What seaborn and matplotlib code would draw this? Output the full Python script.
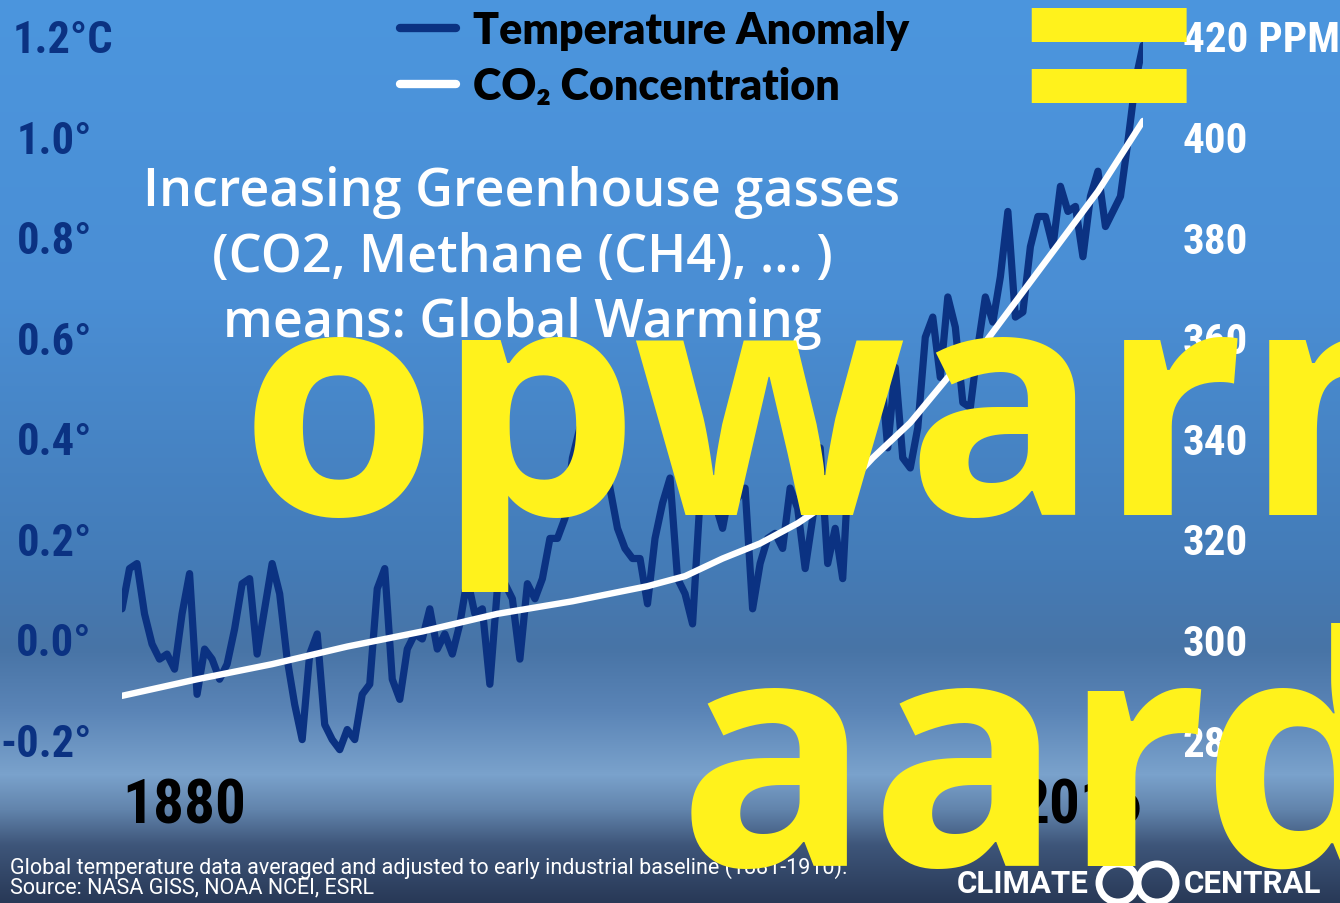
import numpy as np
import matplotlib
matplotlib.use("Agg")
import matplotlib.pyplot as plt
import seaborn as sns
from matplotlib.patches import Circle
from matplotlib.transforms import ScaledTranslation

# Annual temperature anomaly (deg C, vs. 1881-1910)
years = list(range(1880, 2017))
temp_anomaly = [
    0.06, 0.14, 0.15, 0.05, -0.01, -0.04, -0.03, -0.06, 0.05, 0.13,
    -0.11, -0.02, -0.04, -0.08, -0.05, 0.02, 0.11, 0.12, -0.03, 0.06,
    0.15, 0.09, -0.04, -0.13, -0.20, -0.03, 0.01, -0.17, -0.20, -0.22,
    -0.18, -0.20, -0.11, -0.09, 0.10, 0.14, -0.08, -0.12, -0.02, 0.01,
    0.00, 0.06, -0.02, 0.01, -0.03, 0.03, 0.12, 0.05, 0.06, -0.09,
    0.10, 0.11, 0.08, -0.04, 0.11, 0.08, 0.12, 0.20, 0.20, 0.24,
    0.36, 0.42, 0.32, 0.34, 0.42, 0.30, 0.22, 0.18, 0.16, 0.16,
    0.07, 0.20, 0.27, 0.32, 0.12, 0.09, 0.03, 0.28, 0.31, 0.27,
    0.22, 0.30, 0.28, 0.30, 0.06, 0.15, 0.20, 0.21, 0.18, 0.30,
    0.26, 0.14, 0.24, 0.38, 0.15, 0.22, 0.12, 0.40, 0.32, 0.40,
    0.50, 0.55, 0.38, 0.54, 0.36, 0.34, 0.42, 0.60, 0.64, 0.52,
    0.68, 0.62, 0.47, 0.46, 0.58, 0.68, 0.63, 0.72, 0.85, 0.64,
    0.65, 0.78, 0.84, 0.84, 0.78, 0.90, 0.85, 0.86, 0.76, 0.88,
    0.93, 0.82, 0.85, 0.88, 0.99, 1.11, 1.18,
]

# CO2 concentration (ppm)
co2_years = [1880, 1890, 1900, 1910, 1920, 1930, 1940, 1950, 1955, 1960,
             1965, 1970, 1975, 1980, 1985, 1990, 1995, 2000, 2005, 2010,
             2013, 2016]
co2_ppm = [288.7, 292.0, 295.0, 298.5, 301.5, 305.0, 307.5, 310.5, 312.5, 316.0,
           319.0, 323.0, 328.0, 336.0, 343.0, 352.0, 359.0, 369.0, 379.0, 389.0,
           396.0, 403.0]

temp_ticks = [-0.2, 0.0, 0.2, 0.4, 0.6, 0.8, 1.0, 1.2]
temp_labels = ["-0.2°", "0.0°", "0.2°", "0.4°", "0.6°", "0.8°", "1.0°", "1.2°C"]
co2_ticks = [280, 300, 320, 340, 360, 380, 400, 420]
co2_labels = ["280", "300", "320", "340", "360", "380", "400", "420 PPM"]
year_labels = ["1880", "2016"]

W, H = 1340, 904
NAVY = "#0b3282"
YELLOW = "#fff21c"
NARROW = ["Roboto Condensed", "DejaVu Sans"]

sns.set_theme(style="white")
plt.rcParams["font.family"] = ["Lato", "DejaVu Sans"]

fig = plt.figure(figsize=(W / 100, H / 100), dpi=100)

# background gradient (sky-like)
bg = fig.add_axes([0, 0, 1, 1], zorder=0)
stops_y = [0, 300, 560, 650, 710, 775, 810, 845, 904]
stops_rgb = [(76, 150, 222), (74, 142, 212), (68, 124, 184), (72, 116, 166),
             (90, 132, 182), (122, 162, 204), (98, 132, 172), (62, 86, 122), (40, 56, 86)]
rows = np.arange(H)
grad = np.stack([np.interp(rows, stops_y, [c[i] for c in stops_rgb]) for i in range(3)], axis=-1) / 255
bg.imshow(grad[:, None, :], aspect="auto", extent=[0, 1, 0, 1])
bg.set_axis_off()

# main axes: 1880 at x=122 px, 2016 at x=1143 px
ax = fig.add_axes([122 / W, 0, (1143 - 122) / W, 1], zorder=1)
ax.patch.set_alpha(0)
t_top, t_bot = 640 / 503, -(H - 640) / 503
ax.set_xlim(1880, 2016)
ax.set_ylim(t_bot, t_top)
sns.lineplot(x=years, y=temp_anomaly, ax=ax, color=NAVY, linewidth=5.2,
             label="Temperature Anomaly", legend=False)

ax2 = ax.twinx()
ax2.set_ylim(300 + 100 * t_bot, 300 + 100 * t_top)
sns.lineplot(x=co2_years, y=co2_ppm, ax=ax2, color="white", linewidth=4.6,
             label="CO₂ Concentration", legend=False)
for ln in ax.lines + ax2.lines:
    ln.set_solid_capstyle("round")
    ln.set_solid_joinstyle("round")

for a in (ax, ax2):
    for s in a.spines.values():
        s.set_visible(False)
    a.grid(False)
    a.set_xlabel("")
    a.set_ylabel("")


def narrow(labels):
    for lab in labels:
        lab.set_family(NARROW)
        lab.set_fontstretch("condensed")
        lab.set_fontweight("bold")


ax.set_yticks(temp_ticks, temp_labels)
ax.tick_params(axis="y", length=0, pad=21.6, labelsize=32, labelcolor=NAVY)
narrow(ax.get_yticklabels())
top_lab = ax.get_yticklabels()[-1]
top_lab.set_transform(top_lab.get_transform() + ScaledTranslation(0.21, 0, fig.dpi_scale_trans))

ax2.set_yticks(co2_ticks, co2_labels)
ax2.tick_params(axis="y", length=0, pad=28.8, labelsize=31, labelcolor="white")
narrow(ax2.get_yticklabels())

# year labels sit just above the footer band
ax.spines["bottom"].set_position(("data", -(778 - 640) / 503))
ax.set_xticks([1880, 2016], year_labels)
ax.tick_params(axis="x", length=0, pad=0, labelsize=44, labelcolor="black")
xl = ax.get_xticklabels()
narrow(xl)
xl[0].set_ha("left")
xl[1].set_ha("right")

# legend at the top
handles = ax.lines[:1] + ax2.lines[:1]
leg = ax2.legend(handles, [h.get_label() for h in handles], loc="upper left",
                 bbox_to_anchor=(400 / W, 1 - 11 / H), bbox_transform=fig.transFigure,
                 frameon=False, fontsize=31, handlelength=1.3, handletextpad=0.4,
                 labelspacing=0.37, borderpad=0, borderaxespad=0)
for txt in leg.get_texts():
    txt.set_fontweight("heavy")
    txt.set_color("black")
for lh in leg.get_lines():
    lh.set_linewidth(6)
    lh.set_solid_capstyle("round")

# white annotation in the middle
fig.text(522 / W, 1 - 258 / H,
         "Increasing Greenhouse gasses\n(CO2, Methane (CH4), … )\nmeans: Global Warming",
         ha="center", va="center", color="white", fontsize=37.5, fontweight="semibold",
         family=["Open Sans", "DejaVu Sans"], linespacing=1.32, zorder=2)

# footer
foot = dict(ha="left", va="center", color="white", fontsize=15.5,
            family=["Roboto", "DejaVu Sans"], zorder=2)
fig.text(10 / W, 1 - 868 / H,
         "Global temperature data averaged and adjusted to early industrial baseline (1881-1910).",
         **foot)
fig.text(10 / W, 1 - 888 / H, "Source: NASA GISS, NOAA NCEI, ESRL", **foot)
logo = dict(va="center", color="white", fontsize=22.5, fontweight="bold",
            family=["Roboto", "DejaVu Sans"], zorder=2)
fig.text(1089 / W, 1 - 884 / H, "CLIMATE", ha="right", **logo)
fig.text(1184 / W, 1 - 884 / H, "CENTRAL", ha="left", **logo)
for cx in (1118, 1157):
    fig.add_artist(Circle((cx / 100, (H - 884) / 100), 0.19, transform=fig.dpi_scale_trans,
                          facecolor="none", edgecolor="white", linewidth=5, zorder=2))

# yellow overlay text
big = dict(ha="left", va="baseline", color=YELLOW, fontsize=230, fontweight="bold",
           family=["Open Sans", "DejaVu Sans"], zorder=5)
fig.text(240 / W, 1 - 515 / H, "opwarm", **big)
fig.text(678 / W, 1 - 866 / H, "aard", **big)
fig.text(1108 / W, 1 - 85 / H, "=", ha="center", va="center", color=YELLOW,
         fontsize=230, fontweight="bold", family=["Open Sans", "DejaVu Sans"], zorder=5)

fig.savefig("out.png", dpi=100)
